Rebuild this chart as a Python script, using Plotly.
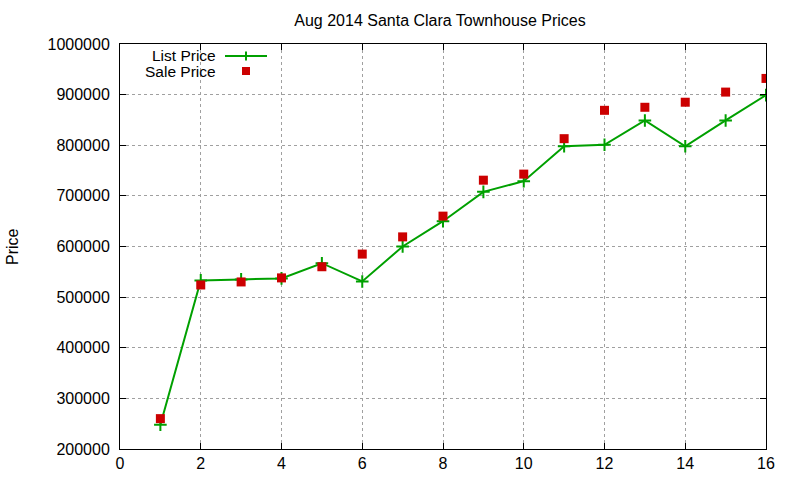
import plotly.graph_objects as go

months = list(range(1, 17))
list_price = [248000, 533000, 535000, 537000, 567000, 531000, 600000, 650000,
              708000, 729000, 798000, 801000, 849000, 798000, 849000, 899000]
sale_price = [260000, 524000, 530000, 538000, 560000, 585000, 619000, 660000,
              731000, 743000, 813000, 869000, 875000, 885000, 905000, 932000]

GREEN = "#00a000"
RED = "#cc0000"
FONT = "Liberation Sans"
FS = 16

fig = go.Figure()
fig.add_trace(go.Scatter(
    x=months, y=list_price, mode="lines+markers", name="List Price",
    line=dict(color=GREEN, width=2),
    marker=dict(symbol="cross-thin", size=9, line=dict(color=GREEN, width=2)),
    showlegend=False,
))
fig.add_trace(go.Scatter(
    x=months, y=sale_price, mode="markers", name="Sale Price",
    marker=dict(symbol="square", size=9, color=RED),
    showlegend=False,
))

L, R, T, B = 120, 34, 44, 31
W, H = 800 - L - R, 480 - T - B

def px(xp):
    return (xp - L) / W

def py(yp):
    return (480 - B - yp) / H

shapes = [
    dict(type="line", xref="paper", yref="paper", x0=px(225), x1=px(267),
         y0=py(56), y1=py(56), line=dict(color=GREEN, width=2)),
    dict(type="line", xref="paper", yref="paper", x0=px(246), x1=px(246),
         y0=py(51.5), y1=py(60.5), line=dict(color=GREEN, width=2)),
    dict(type="rect", xref="paper", yref="paper", x0=px(242), x1=px(250),
         y0=py(67), y1=py(75), line=dict(width=0), fillcolor=RED),
]
annotations = [
    dict(text="List Price", xref="paper", yref="paper", x=px(218), y=py(55),
         xanchor="right", yanchor="middle", showarrow=False, height=14,
         font=dict(family=FONT, size=15.5, color="black")),
    dict(text="Sale Price", xref="paper", yref="paper", x=px(218), y=py(70.5),
         xanchor="right", yanchor="middle", showarrow=False, height=14,
         font=dict(family=FONT, size=15.5, color="black")),
    dict(text="Price", xref="paper", yref="paper", x=px(12), y=py(247),
         xanchor="center", yanchor="middle", showarrow=False, textangle=-90,
         font=dict(family=FONT, size=FS, color="black")),
]

axis_common = dict(
    showline=True, linecolor="black", linewidth=1, mirror="allticks",
    ticks="inside", ticklen=6, tickcolor="black", tickwidth=1,
    showgrid=True, gridcolor="#a0a0a0", griddash="dot", gridwidth=1,
    zeroline=False, automargin=False,
    tickfont=dict(family=FONT, size=FS, color="black"),
)

fig.update_layout(
    width=800, height=480,
    margin=dict(l=L, r=R, t=T, b=B, autoexpand=False),
    paper_bgcolor="white", plot_bgcolor="white",
    title=dict(text="Aug 2014 Santa Clara Townhouse Prices", x=0.55, xanchor="center",
               y=1 - 20 / 480, yanchor="middle",
               font=dict(family=FONT, size=FS, color="black")),
    xaxis=dict(range=[0, 16], dtick=2, tick0=0, ticklabelstandoff=0, **axis_common),
    yaxis=dict(range=[200000, 1000000], dtick=100000, tickformat="d",
               ticklabelstandoff=6, **axis_common),
    shapes=shapes, annotations=annotations,
    font=dict(family=FONT),
)

fig.write_html("out.html", config={"displayModeBar": False},
               post_script="document.body.style.margin='0';")
